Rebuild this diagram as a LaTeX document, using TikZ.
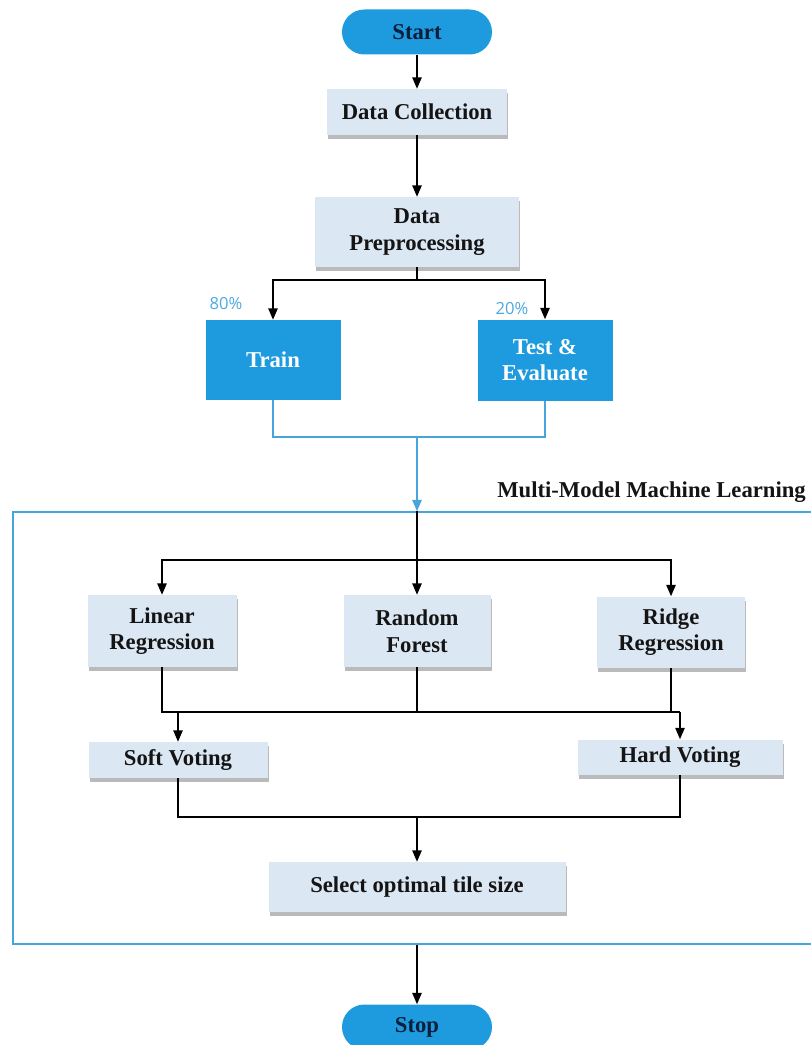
\documentclass[tikz,border=0pt]{standalone}
\usepackage{fontspec}
\setmainfont{Liberation Serif}
\newfontfamily\pctfont{Open Sans}
\usetikzlibrary{arrows.meta,shadows}
\definecolor{vivid}{HTML}{1E9BDF}
\definecolor{pale}{HTML}{DCE7F4}
\definecolor{frameblue}{HTML}{45A5DC}
\definecolor{pctblue}{HTML}{4FA8E0}
\definecolor{navy}{HTML}{0B1E3A}
\definecolor{ink}{HTML}{141414}
\begin{document}
\begin{tikzpicture}[x=0.75pt,y=-0.75pt,
  font=\fontsize{17}{20}\selectfont\bfseries,
  procbox/.style={fill=pale, draw=none, align=center, inner sep=0pt, text=ink,
    drop shadow={shadow xshift=1pt, shadow yshift=-3pt, fill=black!60, opacity=0.45}},
  bluebox/.style={fill=vivid, draw=none, align=center, inner sep=0pt, text=white},
  pill/.style={fill=vivid, draw=none, rounded corners=16.8pt, inner sep=0pt, text=navy,
    minimum width=112.5pt, minimum height=33.75pt},
  pct/.style={font=\pctfont\fontsize{12.5}{14}\selectfont, text=pctblue, inner sep=0pt},
  conn/.style={draw=black, line width=1.1pt},
  arr/.style={conn, -{Triangle[width=7pt,length=8.5pt]}},
  bconn/.style={draw=frameblue, line width=1.1pt},
  barr/.style={bconn, -{Triangle[width=7pt,length=8.5pt]}}
]
\useasboundingbox (0,0) rectangle (810,1045);

% frame
\node[draw=frameblue, line width=1.1pt, minimum width=599.25pt, minimum height=324pt, inner sep=0pt] (mml) at (412.5,728) {};
\node[anchor=east, inner sep=0pt, text=ink] (mmltitle) at (806,492) {Multi-Model Machine Learning};

% nodes
\node[pill] (start) at (417,32) {Start};
\node[procbox, minimum width=135pt, minimum height=34.5pt] (dc) at (417,112) {Data Collection};
\node[procbox, minimum width=153pt, minimum height=52.5pt] (pre) at (417,232) {Data\\Preprocessing};
\node[bluebox, minimum width=101.25pt, minimum height=60pt] (train) at (273,360) {Train};
\node[bluebox, minimum width=101.25pt, minimum height=60.75pt] (test) at (545,360) {Test \&\\Evaluate};
\node[pct] (p80) at (226,304) {80\%};
\node[pct] (p20) at (512,309) {20\%};

\node[procbox, minimum width=111.75pt, minimum height=54pt] (lr) at (162,631) {Linear\\Regression};
\node[procbox, minimum width=110.25pt, minimum height=54pt] (rf) at (417,631) {Random\\Forest};
\node[procbox, minimum width=111pt, minimum height=53.25pt] (rr) at (671,632) {Ridge\\Regression};
\node[procbox, minimum width=134.25pt, minimum height=27pt] (sv) at (178,760) {Soft Voting};
\node[procbox, minimum width=153.75pt, minimum height=26.25pt] (hv) at (680,757) {Hard Voting};
\node[procbox, minimum width=222.75pt, minimum height=37.5pt] (sel) at (417,887) {Select optimal tile size};
\node[pill] (stop) at (417,1027) {Stop};

% connectors
\coordinate (j1) at (417,280);
\coordinate (j2) at (417,437);
\coordinate (j3) at (417,560);
\coordinate (j4) at (417,712);
\coordinate (j5) at (417,817);

\draw[arr] (start) -- (dc);
\draw[arr] (dc) -- (pre);
\draw[conn] (pre.south) -- (j1);
\draw[arr] (j1) -| (train.north);
\draw[arr] (j1) -| (test.north);

\draw[bconn] (train.south) |- (j2);
\draw[bconn] (test.south) |- (j2);
\draw[barr] (j2) -- (j2 |- mml.north);

\draw[conn] (j2 |- mml.north) -- (j3);
\draw[arr] (j3) -| (lr.north);
\draw[arr] (j3) -- (rf.north);
\draw[arr] (j3) -| (rr.north);

\draw[conn] (lr.south) -- (lr.south |- j4) -- (hv.north |- j4);
\draw[conn] (rf.south) -- (j4);
\draw[conn] (rr.south) -- (rr.south |- j4);
\draw[arr] (sv.north |- j4) -- (sv.north);
\draw[arr] (hv.north |- j4) -- (hv.north);

\draw[conn] (sv.south) |- (j5);
\draw[conn] (hv.south) |- (j5);
\draw[arr] (j5) -- (sel.north);
\draw[arr] (mml.south -| sel) -- (stop);
\end{tikzpicture}
\end{document}
